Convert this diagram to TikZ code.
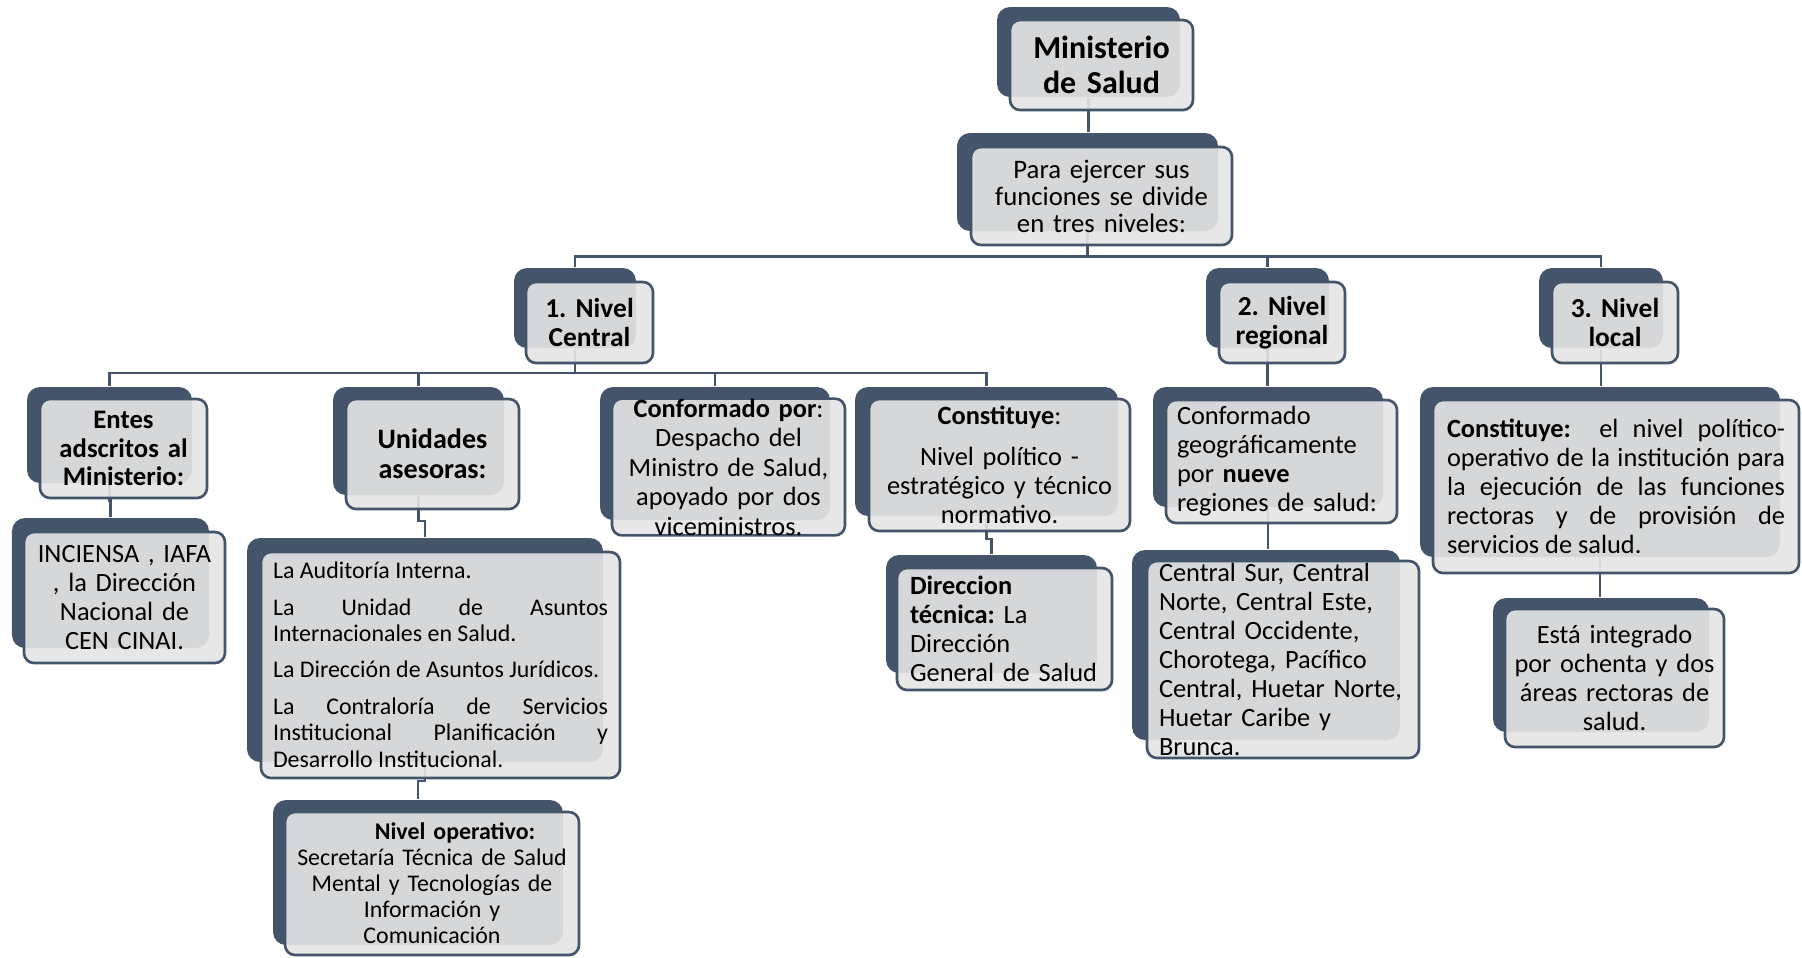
\documentclass[tikz,border=0pt]{standalone}
\usepackage{fontspec}
\setmainfont{Carlito}
\usetikzlibrary{calc}
\definecolor{msslate}{HTML}{44546A}
\definecolor{msgray}{HTML}{E5E5E5}
\frenchspacing
\hyphenpenalty=10000\relax
\tolerance=9999\relax

\begin{document}
\begin{tikzpicture}[
  back/.style={fill=msslate, rounded corners=0.13cm, inner sep=0pt},
  front/.style={draw=msslate, line width=0.75pt, fill=msgray, fill opacity=0.91, text opacity=1, rounded corners=0.1cm, inner sep=0pt, align=center, font=\fontsize{7.5}{8.25}\selectfont},
  lvl/.style={font=\fontsize{7.8}{8.25}\selectfont\bfseries},
  small/.style={font=\fontsize{6.8}{7.6}\selectfont},
  link/.style={draw=msslate, line width=0.6pt},
]
\useasboundingbox (0,0) rectangle (18.02,-9.57);

% Back plates (dark)
\node[back, minimum width=1.83cm, minimum height=0.90cm] (min)   at (10.885,-0.52) {};
\node[back, minimum width=2.61cm, minimum height=0.98cm] (para)  at (10.875,-1.82) {};
\node[back, minimum width=1.22cm, minimum height=0.80cm] (n1)    at (5.75,-3.08) {};
\node[back, minimum width=1.23cm, minimum height=0.80cm] (n2)    at (12.675,-3.08) {};
\node[back, minimum width=1.24cm, minimum height=0.80cm] (n3)    at (16.01,-3.08) {};
\node[back, minimum width=1.65cm, minimum height=0.96cm] (entes) at (1.095,-4.35) {};
\node[back, minimum width=1.97cm, minimum height=1.30cm] (inc)   at (1.105,-5.83) {};
\node[back, minimum width=1.71cm, minimum height=1.08cm] (unid)  at (4.185,-4.41) {};
\node[back, minimum width=3.56cm, minimum height=2.24cm] (ases)  at (4.25,-6.50) {};
\node[back, minimum width=2.90cm, minimum height=1.45cm] (oper)  at (4.18,-8.725) {};
\node[back, minimum width=2.30cm, minimum height=1.33cm] (desp)  at (7.15,-4.535) {};
\node[back, minimum width=2.63cm, minimum height=1.29cm] (cons)  at (9.865,-4.515) {};
\node[back, minimum width=2.11cm, minimum height=1.18cm] (dirt)  at (9.915,-6.14) {};
\node[back, minimum width=2.30cm, minimum height=1.20cm] (geo)   at (12.68,-4.47) {};
\node[back, minimum width=2.68cm, minimum height=1.90cm] (reg)   at (12.66,-6.45) {};
\node[back, minimum width=3.60cm, minimum height=1.70cm] (loc)   at (16.00,-4.72) {};
\node[back, minimum width=2.16cm, minimum height=1.34cm] (area)  at (16.01,-6.65) {};

% Connectors
\coordinate (bus1) at (0,-2.565);
\coordinate (bus2) at (0,-3.73);
\draw[link] (min.south) -- (min.south |- para.north);
\draw[link] (para.south) -- (para.south |- bus1) -| (n1.north);
\draw[link] (para.south) -- (para.south |- bus1) -| (n2.north);
\draw[link] (para.south) -- (para.south |- bus1) -| (n3.north);
\draw[link] (n1.south) -- (n1.south |- bus2) -| (entes.north);
\draw[link] (n1.south) -- (n1.south |- bus2) -| (unid.north);
\draw[link] (n1.south) -- (n1.south |- bus2) -| (desp.north);
\draw[link] (n1.south) -- (n1.south |- bus2) -| (cons.north);
\draw[link] (entes.south) |- ($(entes.south)!0.5!(inc.north)$) -| (inc.north);
\draw[link] (unid.south) |- ($(unid.south)!0.6!(ases.north)$) -| (ases.north);
\draw[link] (ases.south) |- ($(ases.south)!0.5!(oper.north)$) -| (oper.north);
\draw[link] (cons.south) |- ($(cons.south)!0.6!(dirt.north)$) -| (dirt.north);
\draw[link] (n2.south) -- (n2.south |- geo.north);
\draw[link] (geo.south) -- (geo.south |- reg.north);
\draw[link] (n3.south) -- (n3.south |- loc.north);
\draw[link] (loc.south) -- (loc.south |- area.north);

% Front cards (text)
\node[front, minimum width=1.83cm, minimum height=0.90cm, text width=1.7cm, font=\fontsize{9.1}{10}\selectfont\bfseries] (min-t) at (11.015,-0.65) {Ministerio\\ de Salud};
\node[front, minimum width=2.61cm, minimum height=0.98cm, text width=2.5cm, font=\fontsize{7.6}{7.7}\selectfont] (para-t) at (11.015,-1.96) {Para ejercer sus\\ funciones se divide\\ en tres niveles:};
\node[front, lvl, minimum width=1.27cm, minimum height=0.81cm, text width=1.15cm] (n1-t) at (5.895,-3.225) {1. Nivel\\ Central};
\node[front, lvl, minimum width=1.26cm, minimum height=0.81cm, text width=1.15cm] (n2-t) at (12.82,-3.225) {2. Nivel\\ regional};
\node[front, lvl, minimum width=1.26cm, minimum height=0.81cm, text width=1.15cm] (n3-t) at (16.15,-3.225) {3. Nivel\\ local};

% Nivel central
\node[front, minimum width=1.67cm, minimum height=0.99cm, text width=1.55cm, font=\fontsize{7.6}{8.2}\selectfont\bfseries] (entes-t) at (1.235,-4.485) {Entes\\ adscritos al\\ Ministerio:};
\node[front, minimum width=2.01cm, minimum height=1.31cm, text width=1.9cm] (inc-t) at (1.245,-5.975) {INCIENSA , IAFA\\ , la Dirección\\ Nacional de\\ CEN CINAI.};
\node[front, minimum width=1.73cm, minimum height=1.10cm, text width=1.6cm, font=\fontsize{8}{8.5}\selectfont\bfseries] (unid-t) at (4.325,-4.54) {Unidades\\ asesoras:};
\node[front, small, align=justify, minimum width=3.59cm, minimum height=2.26cm, text width=3.35cm] (ases-t) at (4.405,-6.65) {La Auditoría Interna.\par\vspace{2.7pt}
  La Unidad de Asuntos\linebreak Internacionales en Salud.\par\vspace{2.7pt}
  La Dirección de Asuntos Jurídicos.\par\vspace{2.7pt}
  La Contraloría de Servicios\linebreak Institucional Planificación y\linebreak Desarrollo Institucional.};
\node[front, minimum width=2.94cm, minimum height=1.43cm, text width=2.85cm, font=\fontsize{6.8}{7.4}\selectfont] (oper-t) at (4.32,-8.835) {\hspace*{0.46cm}\textbf{Nivel operativo:}\\ Secretaría Técnica de Salud\\ Mental y Tecnologías de\\ Información y\\ Comunicación};
\node[front, minimum width=2.33cm, minimum height=1.36cm, text width=2.25cm, font=\fontsize{7.5}{8.4}\selectfont] (desp-t) at (7.285,-4.67) {\textbf{Conformado por}:\\ Despacho del\\ Ministro de Salud,\\ apoyado por dos\\ viceministros.};
\node[front, minimum width=2.61cm, minimum height=1.32cm, text width=2.5cm] (cons-t) at (9.995,-4.65) {\textbf{Constituye}:\\[3.4pt] Nivel político -\\ estratégico y técnico\\ normativo.};
\node[front, align=left, minimum width=2.15cm, minimum height=1.22cm, text width=1.89cm] (dirt-t) at (10.045,-6.29) {\textbf{Direccion}\\ \textbf{técnica:} La\\ Dirección\\ General de Salud};

% Nivel regional
\node[front, align=left, minimum width=2.31cm, minimum height=1.23cm, text width=2.09cm] (geo-t) at (12.815,-4.615) {Conformado\\ geográficamente\\ por \textbf{nueve}\\ regiones de salud:};
\node[front, align=left, minimum width=2.72cm, minimum height=1.97cm, text width=2.48cm] (reg-t) at (12.83,-6.595) {Central Sur, Central\\ Norte, Central Este,\\ Central Occidente,\\ Chorotega, Pacífico\\ Central, Huetar Norte,\\ Huetar Caribe y\\ Brunca.};

% Nivel local
\node[front, align=justify, minimum width=3.66cm, minimum height=1.73cm, text width=3.38cm] (loc-t) at (16.16,-4.865) {\textbf{Constituye:}\ \ el nivel político-\linebreak operativo de la institución para\linebreak la ejecución de las funciones\linebreak rectoras y de provisión de\linebreak servicios de salud.};
\node[front, minimum width=2.19cm, minimum height=1.38cm, text width=2.1cm] (area-t) at (16.145,-6.78) {Está integrado\\ por ochenta y dos\\ áreas rectoras de\\ salud.};

\end{tikzpicture}
\end{document}
